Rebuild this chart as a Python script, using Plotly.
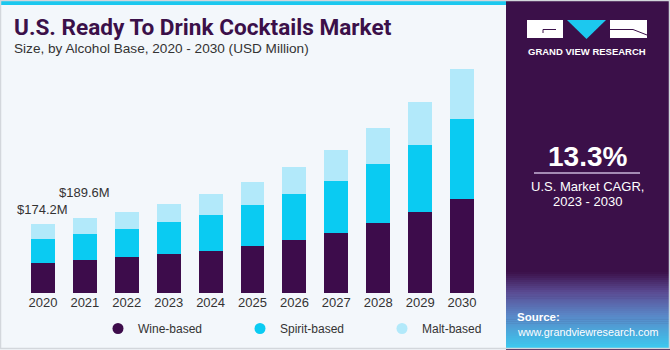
import plotly.graph_objects as go

# ---- data ----
years = ["2020", "2021", "2022", "2023", "2024", "2025", "2026", "2027", "2028", "2029", "2030"]
wine = [75.7, 82.6, 90.1, 98.5, 107.1, 118.7, 133.1, 152.5, 176.8, 204.5, 237.4]
spirit = [61.6, 66.4, 71.5, 80.8, 89.9, 102.8, 116.2, 130.3, 148.2, 170.2, 202.0]
malt = [36.9, 40.6, 42.2, 45.5, 53.0, 58.1, 68.9, 79.3, 90.9, 107.6, 124.7]
series_names = ["Wine-based", "Spirit-based", "Malt-based"]
labeled_years = ["2020", "2021"]
cagr_text = "13.3%"

# ---- style ----
W, H = 670, 350
ML, MR, MT, MB = 22, 187, 60, 57
PW, PH = W - ML - MR, H - MT - MB
C_WINE, C_SPIRIT, C_MALT = "#3d0c4b", "#0acbf2", "#b2e9fa"
PURPLE = "#3b1049"
BG = "#f3f7fb"

def px(x):
    return (x - ML) / PW

def py(y):
    return (H - MB - y) / PH

fig = go.Figure()
for name, vals, col in zip(series_names, [wine, spirit, malt], [C_WINE, C_SPIRIT, C_MALT]):
    fig.add_trace(go.Bar(x=years, y=vals, name=name, marker=dict(color=col, line=dict(width=0)),
                         showlegend=False, hoverinfo="x+y+name"))
for name, col in zip(series_names, [C_WINE, C_SPIRIT, C_MALT]):
    fig.add_trace(go.Scatter(x=[years[0]], y=[None], mode="markers", name=name,
                             marker=dict(color=col, size=11, symbol="circle")))

totals = [round(a + b + c, 1) for a, b, c in zip(wine, spirit, malt)]
shifts = {"2020": 5, "2021": 16}
annotations = []
for yr in labeled_years:
    i = years.index(yr)
    annotations.append(dict(x=i, y=totals[i], xref="x", yref="y", text=f"${totals[i]:.1f}M",
                            showarrow=False, yanchor="bottom", yshift=shifts[yr],
                            font=dict(family="Liberation Sans, Arial", size=13, color="#333333")))

# title / subtitle
annotations.append(dict(x=px(12), y=py(28), xref="paper", yref="paper", xanchor="left", yanchor="middle",
                        text="<b>U.S. Ready To Drink Cocktails Market</b>", showarrow=False,
                        font=dict(family="Roboto", size=22.6, color=PURPLE, weight=900)))
annotations.append(dict(x=px(12), y=py(49), xref="paper", yref="paper", xanchor="left", yanchor="middle",
                        text="Size, by Alcohol Base, 2020 - 2030 (USD Million)", showarrow=False,
                        font=dict(family="Liberation Sans, Arial", size=13.6, color="#333333")))
# right panel texts
annotations.append(dict(x=px(587), y=py(51), xref="paper", yref="paper", xanchor="center", yanchor="middle",
                        text="<b>GRAND VIEW RESEARCH</b>", showarrow=False,
                        font=dict(family="Liberation Sans, Arial", size=9.5, color="white")))
annotations.append(dict(x=px(587), y=py(156), xref="paper", yref="paper", xanchor="center", yanchor="middle",
                        text="<b>" + cagr_text + "</b>", showarrow=False,
                        font=dict(family="Liberation Sans, Arial", size=28, color="white")))
annotations.append(dict(x=px(587), y=py(186), xref="paper", yref="paper", xanchor="center", yanchor="middle",
                        text="U.S. Market CAGR,", showarrow=False,
                        font=dict(family="Liberation Sans, Arial", size=13, color="white")))
annotations.append(dict(x=px(587), y=py(201), xref="paper", yref="paper", xanchor="center", yanchor="middle",
                        text="2023 - 2030", showarrow=False,
                        font=dict(family="Liberation Sans, Arial", size=13, color="white")))
annotations.append(dict(x=px(515), y=py(317), xref="paper", yref="paper", xanchor="left", yanchor="middle",
                        text="<b>Source:</b>", showarrow=False,
                        font=dict(family="Liberation Sans, Arial", size=11.5, color="white")))
annotations.append(dict(x=px(515), y=py(332), xref="paper", yref="paper", xanchor="left", yanchor="middle",
                        text="www.grandviewresearch.com", showarrow=False,
                        font=dict(family="Liberation Sans, Arial", size=10.8, color="white")))

shapes = []
def rect(x0, y0, x1, y1, color, layer="below"):
    shapes.append(dict(type="rect", xref="paper", yref="paper", x0=px(x0), x1=px(x1), y0=py(y1), y1=py(y0),
                       fillcolor=color, line=dict(width=0), layer=layer))

rect(0, 0, 506, 5, "#1cc8ef")
rect(506, 0, 670, 350, PURPLE)

# gradient source panel
def lerp(c1, c2, t):
    a = [int(c1[i:i + 2], 16) for i in (1, 3, 5)]
    b = [int(c2[i:i + 2], 16) for i in (1, 3, 5)]
    return "#" + "".join(f"{int(round(a[k] + (b[k] - a[k]) * t)):02x}" for k in range(3))

stops = [(272, PURPLE), (292, "#5a4a92"), (315, "#5a86c6"), (348, "#3ccaf0")]
for j in range(len(stops) - 1):
    y0, c0 = stops[j]
    y1, c1 = stops[j + 1]
    n = max(1, (y1 - y0) // 2)
    for k in range(n):
        ya = y0 + (y1 - y0) * k / n
        yb = y0 + (y1 - y0) * (k + 1) / n + 0.6
        rect(506, ya, 670, yb, lerp(c0, c1, (k + 0.5) / n))

# logo
rect(527, 20, 563, 38, "white", layer="above")
rect(610, 20, 647, 38, "white", layer="above")
shapes.append(dict(type="path", xref="paper", yref="paper",
                   path=f"M {px(567)} {py(20)} L {px(606)} {py(20)} L {px(586.5)} {py(39)} Z",
                   fillcolor="#1cc8ef", line=dict(width=0), layer="above"))
for (xa, ya, xb, yb) in [(543, 29.5, 556, 29.5), (543, 29.5, 543, 33), (610, 29.5, 633, 29.5), (633, 29.5, 647, 35)]:
    shapes.append(dict(type="line", xref="paper", yref="paper", x0=px(xa), y0=py(ya), x1=px(xb), y1=py(yb),
                       line=dict(color=PURPLE, width=1), layer="above"))
# CAGR divider
shapes.append(dict(type="line", xref="paper", yref="paper", x0=px(534), x1=px(640), y0=py(173), y1=py(173),
                   line=dict(color="#c8b4d8", width=1.5), layer="above"))
# frame
shapes.append(dict(type="rect", xref="paper", yref="paper", x0=px(0.5), x1=px(669.5), y0=py(348.5), y1=py(0.5),
                   line=dict(color="#d3d7dc", width=1.5), fillcolor="rgba(0,0,0,0)", layer="above"))

fig.update_layout(
    width=W, height=H, barmode="stack", bargap=0.43,
    margin=dict(l=ML, r=MR, t=MT, b=MB, autoexpand=False),
    paper_bgcolor=BG, plot_bgcolor=BG,
    xaxis=dict(type="category", categoryorder="array", categoryarray=years, range=[-0.5, len(years) - 0.5],
               showgrid=False, zeroline=False, showline=False, ticks="", automargin=False,
               tickfont=dict(family="Liberation Sans, Arial", size=13, color="#333333")),
    yaxis=dict(range=[0, 588], visible=False, showgrid=False),
    legend=dict(orientation="h", x=px(98), y=py(314), xanchor="left", yanchor="top", traceorder="normal",
                entrywidth=97, entrywidthmode="pixels", bgcolor="rgba(0,0,0,0)",
                font=dict(family="Liberation Sans, Arial", size=12, color="#333333")),
    annotations=annotations, shapes=shapes,
)

fig.write_html("out.html")
